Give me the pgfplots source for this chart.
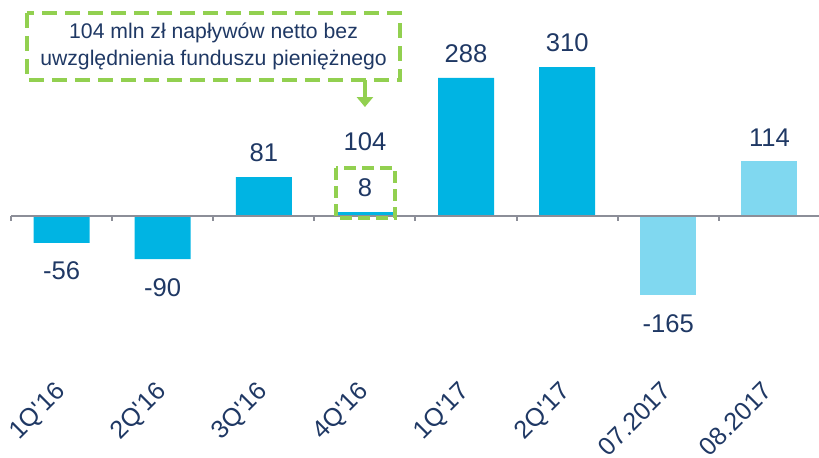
\documentclass[border=0pt]{standalone}
\usepackage{pgfplots}
\pgfplotsset{compat=1.18}
\usetikzlibrary{arrows.meta}
\usepackage{fontspec}
\setmainfont{Liberation Sans}

\definecolor{barDark}{RGB}{0,180,227}
\definecolor{barLight}{RGB}{128,216,240}
\definecolor{txt}{RGB}{31,56,100}
\definecolor{axgray}{RGB}{140,142,152}
\definecolor{annGreen}{RGB}{146,208,80}

\begin{document}
\begin{tikzpicture}
\begin{axis}[
  name=ax,
  scale only axis,
  width=404.5pt, height=190pt,
  xmin=-0.5, xmax=7.5,
  ymin=-341.7, ymax=450,
  clip=false,
  axis line style={draw=none},
  hide y axis,
  xtick={0,...,7},
  xticklabels={1Q\textquotesingle16,2Q\textquotesingle16,3Q\textquotesingle16,4Q\textquotesingle16,1Q\textquotesingle17,2Q\textquotesingle17,07.2017,08.2017},
  xtick pos=bottom,
  major x tick style={draw=none},
  xticklabel style={xshift=-4pt, rotate=45, anchor=north east, inner sep=0pt,
    font=\fontsize{12.6}{14}\selectfont, text=txt},
  /pgf/number format/assume math mode=true,
  every node near coord/.append style={font=\fontsize{12.8}{15}\selectfont, text=txt},
]
% positive bars, dark
\addplot[ybar, bar width=28pt, fill=barDark, draw=none,
  nodes near coords, every node near coord/.append style={anchor=south, inner sep=7.3pt}]
  coordinates {(2,81) (3,8) (4,288) (5,310)};
% negative bars, dark
\addplot[ybar, bar width=28pt, fill=barDark, draw=none,
  nodes near coords, every node near coord/.append style={anchor=north, inner sep=9.3pt}]
  coordinates {(0,-56) (1,-90)};
% monthly bars, light
\addplot[ybar, bar width=28pt, fill=barLight, draw=none,
  nodes near coords, every node near coord/.append style={anchor=south, inner sep=7.3pt}]
  coordinates {(7,114)};
\addplot[ybar, bar width=28pt, fill=barLight, draw=none,
  nodes near coords, every node near coord/.append style={anchor=north, inner sep=9.3pt}]
  coordinates {(6,-165)};

% zero line and category ticks
\draw[axgray, line width=1pt] (axis cs:-0.5,0) -- (axis cs:7.5,0);
\pgfplotsinvokeforeach{-0.5,0.5,1.5,2.5,3.5,4.5,5.5,6.5,7.5}{
  \draw[axgray, line width=1pt] (axis cs:#1,0) -- (axis cs:#1,-11);
}

% annotation
\draw[annGreen, line width=1.75pt, dash pattern=on 7.5pt off 4pt]
  (axis cs:-0.342,423) rectangle (axis cs:3.348,283);
\node[text=txt, align=center, font=\fontsize{10.6}{13.5}\selectfont]
  at (axis cs:1.503,353) {104 mln zł napływów netto bez\\uwzględnienia funduszu pieniężnego};
\draw[annGreen, line width=1.75pt, -{Triangle[width=8pt,length=5pt]}]
  (axis cs:3,283) -- (axis cs:3,227);
\draw[annGreen, line width=1.75pt, dash pattern=on 6pt off 3pt]
  (axis cs:2.715,100) rectangle (axis cs:3.298,-4.2);
\node[text=txt, font=\fontsize{12.8}{15}\selectfont] at (axis cs:3,154) {104};
\end{axis}
\pgfresetboundingbox
\path (ax.north west) ++(-5.5pt,0pt) rectangle ++(409.5pt,-228.5pt);
\end{tikzpicture}
\end{document}
